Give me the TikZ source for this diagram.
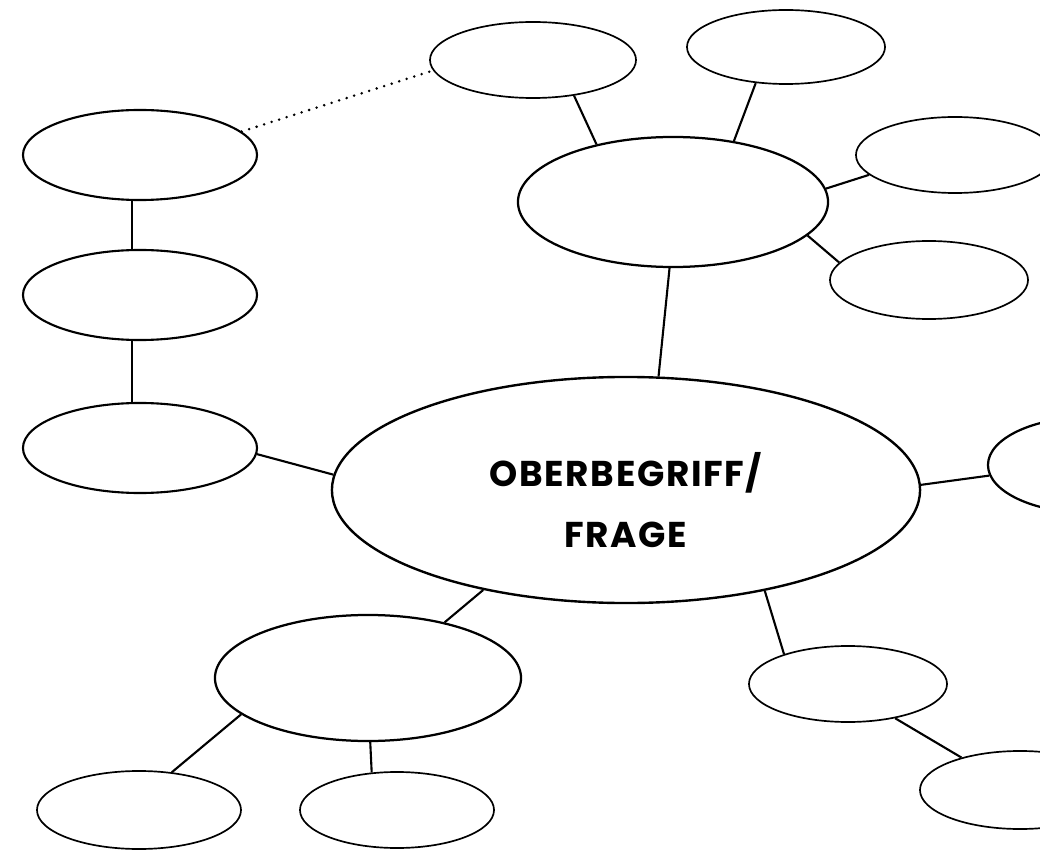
\documentclass[tikz,border=0pt]{standalone}
\usepackage{fontspec}
\usepackage{tikz}
\usetikzlibrary{shapes.geometric}
\newfontfamily\titlefont[LetterSpace=4.5]{Poppins}

\begin{document}
\begin{tikzpicture}[x=0.025cm, y=-0.025cm,
  bubble/.style={ellipse, draw, inner sep=0pt, line width=1.2pt, minimum width=4.95cm, minimum height=1.9cm},
  side/.style={bubble, line width=1.5pt, minimum width=5.85cm, minimum height=2.25cm},
  hub/.style={bubble, line width=1.6pt, minimum width=7.75cm, minimum height=3.25cm},
  link/.style={line width=1.5pt}]
  \useasboundingbox (0,0) rectangle (1040,853);
  \clip (0,0) rectangle (1040,853);
  % centre
  \node[bubble, line width=1.7pt, minimum width=14.7cm, minimum height=5.65cm,
        label={[name=core-title, yshift=-0.25cm, align=center,
                font=\titlefont\bfseries\fontsize{25.5}{43}\selectfont]center:OBERBEGRIFF/\\FRAGE}]
        (core) at (626,490) {};
  % upper group
  \node[hub] (top-hub) at (673,202) {};
  \node[bubble, minimum width=5.15cm] (top-a) at (533,60) {};
  \node[bubble, minimum height=1.85cm] (top-b) at (786,47) {};
  \node[bubble] (top-c) at (955,155) {};
  \node[bubble, minimum height=1.95cm] (top-d) at (929,280) {};
  % left column
  \node[side] (left-a) at (140,155) {};
  \node[side] (left-b) at (140,295) {};
  \node[side] (left-c) at (140,448) {};
  % right edge
  \node[bubble, line width=1.6pt, minimum width=5.1cm, minimum height=2.4cm] (right-a) at (1090,465) {};
  % lower group
  \node[hub, minimum width=7.65cm, minimum height=3.15cm] (low-hub) at (368,678) {};
  \node[bubble, minimum width=5.1cm, minimum height=1.95cm] (low-a) at (139,810) {};
  \node[bubble, minimum width=4.85cm] (low-b) at (397,810) {};
  \node[bubble] (low-c) at (848,684) {};
  \node[bubble, minimum width=5cm, minimum height=1.95cm] (low-d) at (1020,790) {};

  \draw[link] (top-a.-41) -- (top-hub.143);
  \draw[link] (top-b.-130) -- (top-hub.45);
  \draw[link] (top-c.-167) -- (top-hub.5);
  \draw[link] (top-d.169) -- (top-hub.-14);
  \draw[link] (top-hub.-93) -- (core.74);
  \draw[link] (left-a.-100) -- (left-b.100);
  \draw[link] (left-b.-100) -- (left-c.100);
  \draw[link] (left-c.-3) -- (core.177);
  \draw[link] (core.1) -- (right-a.-174);
  \draw[link] (core.-145) -- (low-hub.36);
  \draw[link] (core.-36) -- (low-c.155);
  \draw[link] (low-c.-36) -- (low-d.151);
  \draw[link] (low-hub.-164) -- (low-a.49);
  \draw[link] (low-hub.-88) -- (low-b.124);
  \draw[line width=2pt, line cap=round, dash pattern=on 0pt off 5.6pt] (left-a.13) -- (top-a.-174);
\end{tikzpicture}
\end{document}
